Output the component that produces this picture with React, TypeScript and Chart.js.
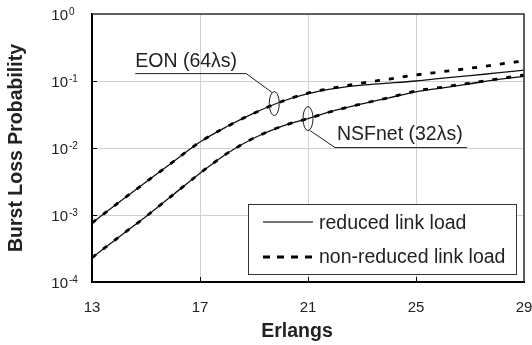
import React, { useEffect, useRef } from 'react';
import { Chart, registerables } from 'chart.js';

Chart.register(...registerables);

const erlangs = [13, 14, 15, 16, 17, 18, 19, 20, 21, 22, 23, 24, 25, 26, 27, 28, 29];
const eonReduced = [7.6e-4, 1.55e-3, 3.1e-3, 6.2e-3, 0.0123, 0.0209, 0.0331, 0.049, 0.0646, 0.0776, 0.087, 0.093, 0.1, 0.11, 0.12, 0.132, 0.145];
const eonNonReduced = [7.6e-4, 1.55e-3, 3.1e-3, 6.2e-3, 0.0123, 0.0209, 0.0331, 0.049, 0.066, 0.0794, 0.0933, 0.107, 0.123, 0.138, 0.155, 0.176, 0.2];
const nsfReduced = [2.3e-4, 4.7e-4, 9.5e-4, 2.0e-3, 4.2e-3, 8.3e-3, 0.0141, 0.0209, 0.0275, 0.0363, 0.0457, 0.0562, 0.069, 0.079, 0.091, 0.105, 0.117];
const nsfNonReduced = [2.3e-4, 4.7e-4, 9.5e-4, 2.0e-3, 4.2e-3, 8.3e-3, 0.0141, 0.0209, 0.0275, 0.0363, 0.0457, 0.0565, 0.071, 0.081, 0.093, 0.107, 0.123];

const xTicks = [13, 17, 21, 25, 29];
const yTicks = [1e-4, 1e-3, 1e-2, 1e-1, 1];
const yTickExponents = ['-4', '-3', '-2', '-1', '0'];
const legendLabels = ['reduced link load', 'non-reduced link load'];
const eonLabel = 'EON (64\u03BBs)';
const nsfLabel = 'NSFnet (32\u03BBs)';
const eonAnchor = [19.75, 0.046];
const nsfAnchor = [21, 0.0275];
const xTitle = 'Erlangs';
const yTitle = 'Burst Loss Probability';

const FONT = '"Liberation Sans", Arial, Helvetica, sans-serif';

const toPts = (ys: number[]) => erlangs.map((x, i) => ({ x, y: ys[i] }));

const decor = {
  id: 'decor',
  afterDatasetsDraw(chart: any) {
    const { ctx, chartArea: a, scales } = chart;
    const x = scales.x;
    const y = scales.y;
    const line = (x1: number, y1: number, x2: number, y2: number) => {
      ctx.beginPath();
      ctx.moveTo(x1, y1);
      ctx.lineTo(x2, y2);
      ctx.stroke();
    };
    ctx.save();
    // frame top/right
    ctx.strokeStyle = '#333';
    ctx.lineWidth = 1.5;
    ctx.beginPath();
    ctx.moveTo(a.left, a.top);
    ctx.lineTo(a.right, a.top);
    ctx.lineTo(a.right, a.bottom);
    ctx.stroke();
    // inward tick marks
    ctx.strokeStyle = '#000';
    ctx.lineWidth = 1;
    xTicks.slice(1, -1).forEach((v) => {
      const px = Math.round(x.getPixelForValue(v)) + 0.5;
      line(px, a.bottom, px, a.bottom - 5);
    });
    yTicks.slice(1, -1).forEach((v) => {
      const py = Math.round(y.getPixelForValue(v)) + 0.5;
      line(a.left, py, a.left + 5, py);
    });
    // y tick labels with superscripts
    ctx.fillStyle = '#222';
    yTicks.forEach((v, i) => {
      const py = y.getPixelForValue(v);
      ctx.font = '15px ' + FONT;
      ctx.textAlign = 'right';
      ctx.textBaseline = 'alphabetic';
      ctx.fillText('10', a.left - 24, py + 6);
      ctx.font = '10px ' + FONT;
      ctx.textAlign = 'left';
      ctx.fillText(yTickExponents[i], a.left - 23, py + 1);
    });
    // axis titles
    ctx.fillStyle = '#222';
    ctx.font = 'bold 19.5px ' + FONT;
    ctx.textAlign = 'center';
    ctx.textBaseline = 'alphabetic';
    ctx.fillText(xTitle, 297, 337);
    ctx.save();
    ctx.translate(17, (a.top + a.bottom) / 2);
    ctx.rotate(-Math.PI / 2);
    ctx.textBaseline = 'middle';
    ctx.fillText(yTitle, 0, 0);
    ctx.restore();

    // annotations
    ctx.strokeStyle = '#222';
    ctx.lineWidth = 1;
    ctx.font = '19.5px ' + FONT;
    ctx.textAlign = 'left';
    ctx.textBaseline = 'alphabetic';
    {
      const ax = x.getPixelForValue(eonAnchor[0]);
      const ay = y.getPixelForValue(eonAnchor[1]);
      ctx.beginPath();
      ctx.ellipse(ax, ay, 5, 12, 0, 0, Math.PI * 2);
      ctx.stroke();
      line(ax - 2, ay - 11, ax - 28, ay - 30);
      line(ax - 28, ay - 30, ax - 139, ay - 30);
      ctx.fillText(eonLabel, ax - 139, ay - 37);
    }
    {
      const ax = x.getPixelForValue(nsfAnchor[0]);
      const ay = y.getPixelForValue(nsfAnchor[1]);
      ctx.beginPath();
      ctx.ellipse(ax, ay, 5, 12, 0, 0, Math.PI * 2);
      ctx.stroke();
      line(ax + 2, ay + 12, ax + 27, ay + 29);
      line(ax + 27, ay + 29, ax + 159, ay + 29);
      ctx.fillText(nsfLabel, ax + 29, ay + 21);
    }

    // legend box
    const lx = 248.5, ly = 204.5, lw = 268, lh = 70;
    ctx.fillStyle = '#fff';
    ctx.fillRect(lx, ly, lw, lh);
    ctx.strokeStyle = '#333';
    ctx.lineWidth = 1;
    ctx.strokeRect(lx, ly, lw, lh);
    ctx.strokeStyle = '#444';
    ctx.lineWidth = 1.3;
    line(263, 222, 313, 222);
    ctx.strokeStyle = '#000';
    ctx.lineWidth = 3;
    ctx.setLineDash([7, 7]);
    line(263, 257, 315, 257);
    ctx.setLineDash([]);
    ctx.fillStyle = '#222';
    ctx.font = '19.5px ' + FONT;
    ctx.fillText(legendLabels[0], 319, 229);
    ctx.fillText(legendLabels[1], 319, 263);
    ctx.restore();
  },
};

export default function App() {
  const ref = useRef<HTMLCanvasElement | null>(null);
  useEffect(() => {
    if (!ref.current) return;
    const dashed = { borderColor: '#000', borderWidth: 2.8, borderDash: [5, 9], pointRadius: 0, cubicInterpolationMode: 'monotone' as const, fill: false };
    const solid = { borderColor: '#111', borderWidth: 1.3, pointRadius: 0, cubicInterpolationMode: 'monotone' as const, fill: false };
    const chart = new Chart(ref.current, {
      type: 'line',
      data: {
        datasets: [
          { label: 'EON non-reduced link load', data: toPts(eonNonReduced), ...dashed },
          { label: 'NSFnet non-reduced link load', data: toPts(nsfNonReduced), ...dashed },
          { label: 'EON reduced link load', data: toPts(eonReduced), ...solid },
          { label: 'NSFnet reduced link load', data: toPts(nsfReduced), ...solid },
        ],
      },
      options: {
        animation: false,
        responsive: false,
        devicePixelRatio: 1,
        layout: { padding: { top: 14, right: 8, left: 0, bottom: 0 } },
        plugins: { legend: { display: false }, tooltip: { enabled: false } },
        scales: {
          x: {
            type: 'linear',
            min: 13,
            max: 29,
            afterBuildTicks: (s: any) => {
              s.ticks = xTicks.map((v) => ({ value: v }));
            },
            afterFit: (s: any) => {
              s.height = 63;
              s.paddingLeft = 0;
              s.paddingRight = 0;
            },
            ticks: { color: '#222', font: { size: 15, family: FONT }, padding: 17, maxRotation: 0, autoSkip: false },
            grid: { color: '#cfcfcf', lineWidth: 1, drawTicks: false },
            border: { color: '#000', width: 2 },
          },
          y: {
            type: 'logarithmic',
            min: 1e-4,
            max: 1,
            afterBuildTicks: (s: any) => {
              s.ticks = yTicks.map((v) => ({ value: v }));
            },
            afterFit: (s: any) => {
              s.width = 92;
              s.paddingTop = 0;
              s.paddingBottom = 0;
            },
            ticks: { display: false },
            grid: { color: '#cfcfcf', lineWidth: 1, drawTicks: false },
            border: { color: '#000', width: 2 },
          },
        },
      },
      plugins: [decor],
    });
    return () => chart.destroy();
  }, []);
  return (
    <div style={{ position: 'fixed', left: 0, top: 0, width: 532, height: 345, background: '#fff' }}>
      <canvas ref={ref} width={532} height={345} />
    </div>
  );
}
